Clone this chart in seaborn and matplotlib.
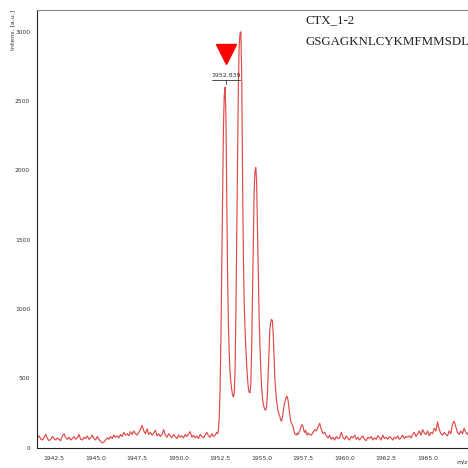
import numpy as np
import pandas as pd
import matplotlib
matplotlib.use("Agg")
import matplotlib.pyplot as plt
import seaborn as sns
from matplotlib.ticker import MultipleLocator, FormatStrFormatter

# ---- data ----
# baseline before the isotope cluster: m/z 1941.5 .. step 0.1
base_left_start = 1941.5
base_left = [70, 85, 60, 55, 75, 95, 65, 50, 60, 80,
             65, 55, 70, 60, 50, 85, 100, 70, 60, 75,
             55, 65, 80, 60, 70, 95, 60, 55, 75, 65,
             85, 60, 70, 90, 65, 55, 80, 60, 45, 35,
             40, 55, 70, 60, 80, 65, 90, 75, 85, 70,
             95, 80, 110, 90, 100, 85, 115, 95, 120, 100,
             90, 110, 130, 160, 120, 100, 135, 95, 110, 90,
             105, 125, 85, 100, 80, 95, 130, 90, 75, 100,
             85, 70, 95, 80, 65, 90, 75, 85, 70, 95,
             80, 100, 115, 75, 90, 70, 85, 65, 95, 80,
             70, 90, 110, 85, 75, 100, 80, 90, 110]
# isotope cluster: m/z 1952.35 .. step 0.05
cluster_start = 1952.35
cluster = [100, 130, 220, 420, 800, 1300, 1850, 2300, 2540, 2600,
           2400, 1850, 1250, 900, 680, 540, 470, 420, 380, 365,
           390, 550, 950, 1500, 2100, 2600, 2900, 2990, 3000, 2700,
           2000, 1400, 1050, 860, 720, 600, 500, 430, 400, 395,
           460, 700, 1100, 1500, 1850, 1990, 2020, 1920, 1600, 1250,
           950, 740, 570, 440, 360, 315, 290, 275, 270, 295,
           390, 540, 700, 860, 905, 925, 915, 820, 650, 500,
           410, 345, 295, 260, 240, 225, 200, 190, 215, 260,
           300, 330, 350, 370, 365, 335, 285, 235, 195, 175,
           165, 150, 120, 100, 95, 90, 105, 95, 110, 120,
           140, 160, 165, 150, 120, 110, 125, 100, 90, 105]
# baseline after the cluster: m/z 1957.9 .. step 0.1
base_right_start = 1957.9
base_right = [95, 90, 110, 130, 120, 150, 175, 130, 100, 110,
              85, 70, 90, 60, 75, 55, 80, 65, 70, 110,
              75, 60, 85, 65, 55, 80, 70, 90, 60, 75,
              55, 70, 85, 60, 50, 75, 65, 80, 55, 70,
              60, 85, 70, 55, 90, 65, 75, 60, 80, 70,
              55, 75, 65, 85, 60, 70, 90, 65, 80, 75,
              85, 70, 95, 110, 80, 100, 120, 90, 130, 105,
              95, 120, 85, 110, 100, 140, 120, 185, 130, 100,
              90, 110, 95, 85, 120, 100, 170, 190, 150, 110,
              95, 120, 100, 140, 110, 95, 125]

peak_mz = 1952.839
peak_label = "1952.839"
x_ticks = [1942.5, 1945.0, 1947.5, 1950.0, 1952.5, 1955.0, 1957.5, 1960.0, 1962.5, 1965.0]
y_ticks = [0, 500, 1000, 1500, 2000, 2500, 3000]
title_lines = ["CTX_1-2", "GSGAGKNLCYKMFMMSDL"]

def seg(start, step, vals):
    return [round(start + step * i, 3) for i in range(len(vals))]

mz = seg(base_left_start, 0.1, base_left) + seg(cluster_start, 0.05, cluster) + seg(base_right_start, 0.1, base_right)
intens = base_left + cluster + base_right
df = pd.DataFrame({"mz": mz, "intens": intens})

# ---- figure ----
sns.set_style("white")
plt.rcParams["font.family"] = ["DejaVu Sans"]
fig = plt.figure(figsize=(4.68, 4.68), dpi=100)
W = H = 468.0
ax = fig.add_axes([37 / W, 1 - 447.6 / H, (475 - 37) / W, (447.6 - 10) / H])

sns.lineplot(data=df, x="mz", y="intens", ax=ax, color="#e04a4a", linewidth=0.85,
             estimator=None, sort=True)

ax.set_xlim(1941.47, 1941.47 + (475 - 37) / 16.6)
ax.set_ylim(0, (447.6 - 10) / 0.1386)

ax.set_xticks(x_ticks)
ax.xaxis.set_major_formatter(FormatStrFormatter("%.1f"))
ax.xaxis.set_minor_locator(MultipleLocator(0.5))
ax.set_yticks(y_ticks)
ax.yaxis.set_minor_locator(MultipleLocator(100))
ax.tick_params(axis="both", which="major", direction="out", length=3, width=0.6,
               labelsize=4.3, colors="#333333", pad=2)
ax.tick_params(axis="both", which="minor", direction="out", length=2, width=0.5, colors="#333333")
ax.tick_params(axis="x", which="major", pad=3)
ax.set_xlabel("")
ax.set_ylabel("")

for s in ["left", "bottom"]:
    ax.spines[s].set_color("#222222")
    ax.spines[s].set_linewidth(0.8)
ax.spines["top"].set_color("#888888")
ax.spines["top"].set_linewidth(0.8)
ax.spines["right"].set_visible(False)

fig.text(13 / W, 1 - 10 / H, "Intens. [a.u.]", rotation=90, ha="center", va="top",
         fontsize=4.5, color="#333333")
fig.text(456 / W, 1 - 462 / H, "m/z", ha="left", va="center", fontsize=4.5, color="#333333")

# peak marker and label
ax.plot([peak_mz], [2840], marker="v", color="#ff0000", markersize=14, linestyle="none")
ax.text(peak_mz, 2665, peak_label, ha="center", va="bottom", fontsize=4.5, color="#333333")
ax.plot([peak_mz - 0.85, peak_mz + 0.85], [2650, 2650], color="#333333", linewidth=0.6)
ax.plot([peak_mz, peak_mz], [2650, 2625], color="#333333", linewidth=0.6)

# annotation text
fig.text(305 / W, 1 - 20 / H, title_lines[0], ha="left", va="center", fontsize=9.3,
         family="Liberation Serif", color="#222222")
fig.text(305 / W, 1 - 42 / H, title_lines[1], ha="left", va="center", fontsize=9.3,
         family="Liberation Serif", color="#222222")

fig.savefig("out.png", dpi=100)
